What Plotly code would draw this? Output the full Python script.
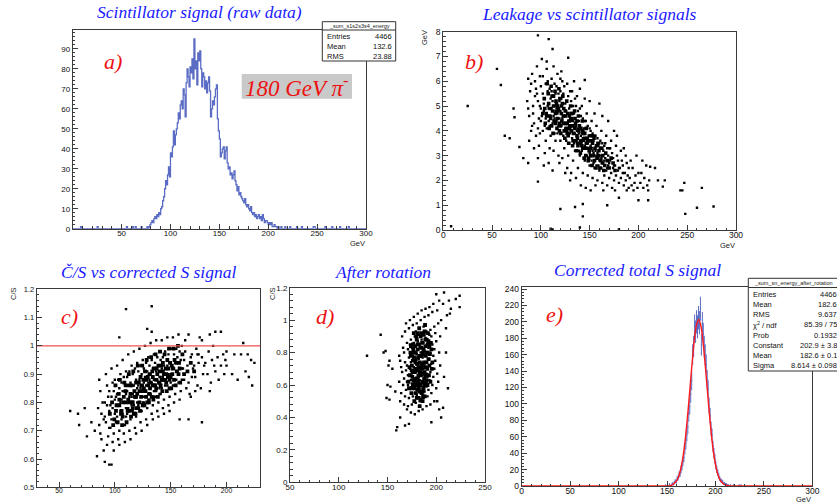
import numpy as np
import plotly.graph_objects as go

W, H = 837, 504

# ---------------- data ----------------
# a) raw scintillator signal, 1 GeV bins starting at 78 GeV
a_first_bin = 78
a_counts = [1, 2, 3, 4, 3, 5, 6, 5, 7, 6, 8, 7, 10, 11, 14, 16, 20, 24, 22, 27,
            31, 26, 38, 36, 41, 49, 42, 47, 50, 53, 58, 55, 62, 64, 60, 70, 67, 56, 73, 80,
            76, 71, 81, 78, 85, 75, 95, 80, 84, 72, 88, 84, 89, 80, 71, 78, 76, 70, 74, 68,
            73, 76, 69, 56, 60, 64, 62, 66, 70, 72, 55, 49, 45, 36, 38, 40, 41, 35, 39, 41,
            33, 30, 31, 27, 28, 25, 27, 29, 24, 22, 19, 21, 17, 18, 16, 15, 14, 13, 15, 12,
            11, 12, 10, 9, 11, 8, 7, 8, 6, 7, 5, 6, 7, 5, 6, 4, 7, 5, 3, 4,
            4, 3, 2, 3, 2, 3, 1, 1, 2, 1, 1, 0, 1, 0]
a_isolated = [8, 25, 55, 61, 64, 70, 76, 213, 217, 222, 229, 234, 246, 247, 258, 265, 273, 282]
a_stats = [("Entries", "4466"), ("Mean", "132.6"), ("RMS", "23.88")]

# b) leakage vs scintillator signal (GeV, GeV): sparse halo and dense core
b_points = [
    (25, 5.0), (55, 6.5), (59, 5.85), (63, 3.8), (68, 3.7), (72, 4.9), (73, 4.55), (78, 3.35),
    (82, 2.9), (87, 2.7), (97, 1.95), (97, 7.85), (108, 7.7), (112, 7.3), (128, 6.95), (145, 6.05),
    (120, 0.85), (135, 0.93), (143, 0.55), (143, 1.05), (168, 1.0), (180, 1.3), (200, 1.2), (210, 1.2),
    (217, 2.5), (220, 2.0), (225, 1.75), (227, 2.0), (243, 1.6), (245, 1.6), (247, 1.9), (248, 0.65),
    (260, 0.9), (265, 1.7), (277, 0.95), (8, 0.15), (110, 0.05), (112, 0.02), (180, 0.03), (140, 0.1),
    (86, 5.2), (87, 6.1), (88, 4.6), (89, 5.6), (90, 4.0), (88, 3.6), (90, 5.9), (87, 4.9),
    (91, 6.3), (92, 5.0), (93, 4.3), (94, 5.4), (95, 3.8), (92, 4.7), (94, 6.0), (93, 3.3), (95, 5.7), (91, 4.2),
    (96, 6.6), (97, 5.2), (98, 4.5), (99, 3.9), (100, 5.8), (97, 4.1), (99, 6.2), (98, 3.4), (100, 4.9),
    (96, 5.5), (97, 2.9), (99, 5.0), (100, 4.4),
    (101, 6.9), (102, 5.5), (103, 4.8), (104, 4.2), (105, 3.6), (102, 6.2), (103, 5.1), (104, 3.1),
    (101, 4.6), (105, 5.9), (102, 4.0), (104, 5.3), (103, 2.6), (105, 4.5),
    (106, 6.5), (107, 5.0), (108, 4.4), (109, 5.7), (110, 3.8), (107, 6.0), (108, 4.9), (109, 3.3),
    (110, 5.3), (106, 4.1), (108, 2.7), (110, 4.6), (107, 5.6), (109, 4.2), (106, 6.8),
    (111, 6.1), (112, 5.2), (113, 4.6), (114, 3.9), (115, 5.5), (112, 4.3), (113, 3.2), (114, 5.9),
    (115, 4.8), (111, 4.9), (112, 2.4), (114, 4.5), (115, 3.6), (113, 6.6), (111, 5.6), (114, 5.0),
    (116, 5.8), (117, 4.7), (118, 4.2), (119, 5.2), (120, 3.6), (117, 6.3), (118, 3.0), (119, 4.5),
    (120, 5.6), (116, 4.9), (117, 3.9), (119, 2.7), (120, 4.8), (118, 5.5), (116, 4.4), (120, 6.1),
    (121, 5.3), (122, 4.5), (123, 3.8), (124, 5.8), (125, 4.1), (122, 6.0), (123, 4.9), (124, 3.3),
    (125, 5.1), (121, 4.2), (122, 2.9), (124, 4.6), (125, 3.7), (121, 6.4), (123, 5.5), (125, 2.3),
    (126, 4.8), (127, 4.0), (128, 5.4), (129, 3.5), (130, 4.5), (127, 5.9), (128, 3.0), (129, 4.9),
    (130, 3.9), (126, 5.2), (127, 2.5), (129, 4.2), (130, 5.6), (128, 4.4), (126, 3.6), (130, 2.0),
    (131, 4.4), (132, 3.7), (133, 5.0), (134, 4.1), (135, 3.2), (132, 5.6), (133, 2.8), (134, 4.7),
    (135, 3.9), (131, 5.2), (132, 4.0), (134, 3.5), (135, 5.3), (133, 4.4), (131, 2.3), (134, 6.0),
    (136, 4.2), (137, 3.5), (138, 4.8), (139, 3.9), (140, 3.0), (137, 5.4), (138, 2.5), (139, 4.4),
    (140, 3.6), (136, 5.0), (137, 4.0), (139, 3.2), (140, 4.9), (138, 4.1), (136, 2.1), (140, 5.7),
    (141, 3.8), (142, 3.2), (143, 4.5), (144, 3.6), (145, 2.8), (142, 5.0), (143, 2.3), (144, 4.1),
    (145, 3.4), (141, 4.6), (142, 3.9), (144, 2.9), (145, 4.4), (143, 3.7), (141, 1.8), (145, 5.3),
    (146, 3.5), (147, 3.0), (148, 4.2), (149, 3.3), (150, 2.6), (147, 4.7), (148, 2.2), (149, 3.8),
    (150, 3.1), (146, 4.4), (147, 3.6), (149, 2.8), (150, 4.1), (148, 3.5), (146, 1.7), (150, 5.2),
    (151, 3.4), (152, 2.8), (153, 3.9), (154, 3.1), (155, 2.5), (152, 4.4), (153, 2.1), (154, 3.6),
    (155, 3.0), (151, 4.0), (152, 3.3), (154, 2.7), (155, 3.8), (153, 3.2), (151, 1.6), (155, 4.7),
    (156, 3.2), (157, 2.6), (158, 3.7), (159, 2.9), (160, 2.4), (157, 4.2), (158, 2.0), (159, 3.4),
    (160, 2.8), (156, 3.8), (157, 3.0), (159, 2.6), (160, 3.5), (158, 3.1), (160, 5.1), (156, 1.8),
    (161, 3.0), (162, 2.5), (163, 3.5), (164, 2.7), (165, 2.2), (162, 4.0), (163, 1.9), (164, 3.2),
    (165, 2.8), (161, 3.6), (162, 2.9), (165, 3.4), (163, 4.6), (164, 1.6),
    (166, 2.9), (167, 2.4), (168, 3.3), (169, 2.6), (170, 2.1), (167, 3.8), (168, 1.8), (169, 3.0),
    (170, 2.7), (166, 3.5), (168, 2.5), (170, 3.3), (169, 4.4),
    (171, 2.8), (172, 2.3), (173, 3.1), (174, 2.5), (175, 2.0), (172, 3.6), (173, 1.7), (174, 2.9),
    (175, 2.6), (171, 3.3), (175, 4.0),
    (176, 2.6), (177, 2.2), (178, 3.0), (179, 2.4), (180, 1.9), (177, 3.4), (179, 2.8), (180, 2.5),
    (176, 1.6), (178, 3.8),
    (181, 2.5), (182, 2.1), (183, 2.8), (184, 2.3), (185, 1.8), (182, 3.2), (184, 2.6), (185, 3.3),
    (186, 2.3), (187, 2.0), (188, 2.7), (189, 2.2), (190, 1.7), (187, 3.0), (190, 2.5), (188, 1.6),
    (191, 2.1), (193, 1.8), (194, 2.5), (196, 1.9), (197, 2.2), (198, 3.0), (199, 1.7), (200, 2.3),
    (195, 1.6), (192, 2.8), (202, 1.9), (203, 2.3), (205, 1.7), (206, 2.1), (208, 2.6), (209, 1.8),
    (210, 1.6), (211, 2.0), (212, 2.55), (204, 2.8),
]
b_core = [
    (110, 4.5), (112, 4.8), (115, 4.3), (117, 4.5), (118, 4.9), (120, 4.2), (121, 4.7), (123, 4.3),
    (125, 4.6), (127, 4.3), (129, 4.6), (131, 4.0), (133, 4.2), (135, 4.5), (137, 3.8), (139, 4.0),
    (141, 3.5), (143, 4.0), (145, 3.7), (147, 3.3), (149, 3.6), (151, 3.0), (153, 3.5), (113, 5.0),
    (116, 5.1), (119, 4.0), (122, 5.1), (126, 4.1), (128, 3.8), (132, 4.7), (136, 3.6), (138, 3.4),
    (142, 3.4), (146, 3.0), (104, 4.9), (106, 4.6), (108, 5.1), (102, 4.7), (124, 4.0), (130, 4.2),
    (103.5, 5.3), (105.5, 4.7), (107.5, 5.5), (109.5, 4.9), (111.5, 5.4), (113.5, 4.4), (115.5, 5.2),
    (117.5, 4.8), (119.5, 5.3), (121.5, 4.4), (123.5, 4.9), (125.5, 4.3), (127.5, 4.7), (129.5, 4.1),
    (131.5, 4.5), (133.5, 3.9), (135.5, 4.3), (137.5, 3.7), (139.5, 4.2), (141.5, 3.6), (143.5, 3.9),
    (145.5, 3.3), (147.5, 3.7), (149.5, 3.2), (151.5, 3.6), (153.5, 3.0), (155.5, 3.3), (157.5, 2.9),
    (159.5, 3.2), (161.5, 2.8), (163.5, 3.0), (165.5, 2.6),
    (104.5, 4.3), (106.5, 5.9), (108.5, 4.1), (110.5, 5.8), (112.5, 3.9), (114.5, 5.6), (116.5, 4.1),
    (118.5, 5.7), (120.5, 3.9), (122.5, 5.4), (124.5, 3.7), (126.5, 5.2), (128.5, 3.5), (130.5, 5.0),
    (132.5, 3.4), (134.5, 4.8), (136.5, 3.2), (138.5, 4.6), (140.5, 3.1), (142.5, 4.4), (144.5, 2.9),
    (146.5, 4.1), (148.5, 2.8), (150.5, 3.8), (152.5, 2.6), (154.5, 3.7), (156.5, 2.5), (158.5, 3.5),
    (160.5, 2.5), (162.5, 3.3), (164.5, 2.4), (166.5, 3.1),
    (109, 4.6), (111, 4.2), (113, 5.4), (115, 4.7), (117, 5.0), (119, 4.3), (121, 5.0), (123, 4.6),
    (125, 4.8), (127, 3.9), (129, 4.4), (131, 4.7), (133, 3.6), (135, 4.1), (137, 4.4), (139, 3.5),
    (141, 4.1), (143, 3.3), (145, 3.9), (147, 3.5), (149, 2.9), (151, 3.3), (153, 3.8), (155, 2.8),
    (157, 3.4), (159, 3.0), (161, 3.3), (163, 2.7), (168, 2.8), (170, 2.5), (172, 2.9), (174, 2.7),
    (176, 2.4),
]

# c) C/S vs corrected S signal
c_points = [
    (60, 0.77), (67, 0.76), (68, 0.72), (73, 0.78), (75, 0.68), (79, 0.73), (82, 0.7), (84, 0.61),
    (91, 0.59), (95, 0.58), (97, 0.58), (110, 1.13), (133, 1.14), (104, 1.03), (166, 0.74), (158, 0.74),
    (178, 0.73), (215, 1.01), (222, 0.95), (220, 0.89), (223, 0.86), (225, 0.94), (217, 0.91), (210, 0.88),
    (205, 0.9), (213, 0.97), (219, 0.97), (207, 0.97), (200, 0.98), (195, 1.05), (190, 1.05), (185, 1.04),
    (129, 1.06), (133, 1.05), (175, 0.97), (200, 0.93),
    (85, 0.78), (86, 0.72), (87, 0.84), (88, 0.67), (89, 0.8), (90, 0.74), (86, 0.88), (88, 0.76), (90, 0.63), (87, 0.69),
    (91, 0.8), (92, 0.73), (93, 0.86), (94, 0.68), (95, 0.77), (92, 0.9), (93, 0.65), (94, 0.82), (95, 0.71),
    (91, 0.75), (93, 0.79), (95, 0.84),
    (96, 0.79), (97, 0.74), (98, 0.87), (99, 0.69), (100, 0.81), (97, 0.92), (98, 0.66), (99, 0.84), (100, 0.76),
    (96, 0.71), (98, 0.78), (100, 0.88), (97, 0.82), (99, 0.63),
    (101, 0.82), (102, 0.75), (103, 0.88), (104, 0.7), (105, 0.8), (102, 0.93), (103, 0.67), (104, 0.85),
    (105, 0.77), (101, 0.73), (103, 0.79), (105, 0.9), (102, 0.83), (104, 0.65), (101, 0.86),
    (106, 0.81), (107, 0.76), (108, 0.89), (109, 0.72), (110, 0.83), (107, 0.95), (108, 0.69), (109, 0.86),
    (110, 0.78), (106, 0.74), (108, 0.8), (110, 0.91), (107, 0.84), (109, 0.66), (106, 0.87), (110, 0.75),
    (111, 0.84), (112, 0.78), (113, 0.91), (114, 0.74), (115, 0.82), (112, 0.97), (113, 0.7), (114, 0.87),
    (115, 0.79), (111, 0.76), (113, 0.82), (115, 0.93), (112, 0.86), (114, 0.67), (111, 0.89), (115, 0.77),
    (116, 0.83), (117, 0.79), (118, 0.92), (119, 0.75), (120, 0.85), (117, 0.98), (118, 0.71), (119, 0.88),
    (120, 0.8), (116, 0.77), (118, 0.84), (120, 0.94), (117, 0.86), (119, 0.69), (116, 0.9), (120, 0.78),
    (121, 0.86), (122, 0.8), (123, 0.93), (124, 0.77), (125, 0.86), (122, 0.99), (123, 0.73), (124, 0.9),
    (125, 0.82), (121, 0.79), (123, 0.85), (125, 0.95), (122, 0.88), (124, 0.7), (121, 0.91), (125, 0.8),
    (126, 0.87), (127, 0.82), (128, 0.94), (129, 0.78), (130, 0.87), (127, 1.0), (128, 0.74), (129, 0.91),
    (130, 0.83), (126, 0.8), (128, 0.86), (130, 0.96), (127, 0.89), (129, 0.72), (126, 0.92), (130, 0.81),
    (131, 0.88), (132, 0.83), (133, 0.95), (134, 0.79), (135, 0.88), (132, 1.01), (133, 0.76), (134, 0.92),
    (135, 0.84), (131, 0.81), (133, 0.87), (135, 0.97), (132, 0.9), (134, 0.74), (131, 0.93), (135, 0.82),
    (136, 0.88), (137, 0.84), (138, 0.96), (139, 0.8), (140, 0.89), (137, 1.02), (138, 0.77), (139, 0.93),
    (140, 0.85), (136, 0.82), (138, 0.88), (140, 0.98), (137, 0.91), (139, 0.75), (136, 0.94), (140, 0.83),
    (141, 0.89), (142, 0.85), (143, 0.96), (144, 0.81), (145, 0.9), (142, 1.02), (143, 0.78), (144, 0.93),
    (145, 0.86), (141, 0.83), (143, 0.89), (145, 0.98), (142, 0.92), (144, 0.76), (141, 0.95),
    (146, 0.9), (147, 0.86), (148, 0.97), (149, 0.82), (150, 0.9), (147, 1.03), (148, 0.79), (149, 0.94),
    (150, 0.87), (146, 0.84), (148, 0.9), (150, 0.99), (147, 0.93), (149, 0.77),
    (151, 0.9), (152, 0.86), (153, 0.97), (154, 0.83), (155, 0.91), (152, 1.03), (153, 0.8), (154, 0.94),
    (155, 0.88), (151, 0.85), (153, 0.92), (155, 0.99),
    (156, 0.91), (157, 0.87), (158, 0.98), (159, 0.84), (160, 0.92), (157, 1.04), (158, 0.81), (159, 0.95),
    (160, 0.88), (156, 0.96), (160, 1.0),
    (161, 0.92), (162, 0.88), (163, 0.98), (164, 0.85), (165, 0.93), (166, 1.04), (167, 0.83), (168, 0.96),
    (169, 0.89), (170, 0.92), (163, 1.02), (166, 0.87), (169, 0.97), (162, 0.95), (168, 0.82),
    (171, 0.93), (172, 0.89), (173, 0.99), (174, 0.86), (175, 0.94), (176, 1.03), (177, 0.85), (178, 0.96),
    (179, 0.9), (180, 0.93), (174, 0.97), (178, 1.02), (172, 0.84),
    (181, 0.94), (183, 0.9), (184, 0.98), (186, 0.87), (187, 0.95), (188, 1.0), (190, 0.91), (192, 0.96),
    (193, 0.88), (195, 0.93), (197, 0.97), (198, 0.9), (199, 0.95), (185, 0.84), (189, 0.93),
]
c_core = [
    (112, 0.81), (114, 0.83), (116, 0.8), (118, 0.82), (120, 0.83), (122, 0.84), (124, 0.86), (126, 0.85),
    (128, 0.88), (130, 0.86), (132, 0.87), (134, 0.89), (136, 0.86), (138, 0.9), (140, 0.87), (142, 0.88),
    (144, 0.9), (146, 0.87), (148, 0.92), (150, 0.89), (104, 0.79), (106, 0.77), (108, 0.82), (110, 0.8),
    (113, 0.77), (117, 0.76), (121, 0.78), (125, 0.79), (129, 0.8), (133, 0.82), (137, 0.85), (141, 0.86),
    (145, 0.88), (149, 0.85), (153, 0.88), (157, 0.9), (115, 0.86), (119, 0.87), (123, 0.89), (127, 0.91),
    (131, 0.9), (135, 0.92), (139, 0.93), (143, 0.91), (147, 0.95), (151, 0.93),
    (95.5, 0.76), (97.5, 0.8), (99.5, 0.74), (101.5, 0.79), (103.5, 0.83), (105.5, 0.76), (107.5, 0.8),
    (109.5, 0.84), (111.5, 0.77), (113.5, 0.86), (115.5, 0.8), (117.5, 0.84), (119.5, 0.78), (121.5, 0.87),
    (123.5, 0.82), (125.5, 0.88), (127.5, 0.84), (129.5, 0.89), (131.5, 0.85), (133.5, 0.91), (135.5, 0.86),
    (137.5, 0.92), (139.5, 0.87), (141.5, 0.93), (143.5, 0.88), (145.5, 0.92), (147.5, 0.89), (149.5, 0.94),
    (151.5, 0.9), (153.5, 0.95), (155.5, 0.91), (157.5, 0.94),
    (98.5, 0.72), (100.5, 0.86), (102.5, 0.73), (104.5, 0.88), (106.5, 0.72), (108.5, 0.87), (110.5, 0.73),
    (112.5, 0.9), (114.5, 0.75), (116.5, 0.91), (118.5, 0.76), (120.5, 0.93), (122.5, 0.77), (124.5, 0.93),
    (126.5, 0.79), (128.5, 0.95), (130.5, 0.8), (132.5, 0.96), (134.5, 0.81), (136.5, 0.97), (138.5, 0.82),
    (140.5, 0.98), (142.5, 0.84), (144.5, 0.97), (146.5, 0.84), (148.5, 0.99), (150.5, 0.85), (152.5, 0.99),
    (154.5, 0.86), (156.5, 1.0), (158.5, 0.87), (160.5, 0.97),
    (101, 0.77), (104, 0.81), (107, 0.75), (110, 0.86), (113, 0.8), (116, 0.78), (119, 0.82), (122, 0.8),
    (125, 0.84), (128, 0.82), (131, 0.83), (134, 0.86), (137, 0.88), (140, 0.91), (143, 0.94), (146, 0.9),
    (149, 0.88), (152, 0.92), (155, 0.94), (158, 0.92), (162, 0.9), (165, 0.91), (168, 0.94), (171, 0.91),
]
c_reference_level = 1.0

# d) after rotation
d_points = [
    (129, 0.78), (143, 0.91), (146, 0.8), (148, 0.81), (151, 0.72), (152, 0.75), (150, 0.6), (153, 0.59),
    (149, 0.52), (152, 0.51), (155, 0.7), (158, 0.56), (160, 0.34), (159, 0.32), (163, 0.4), (168, 0.35),
    (172, 0.36), (195, 0.37), (205, 0.4), (203, 0.45), (207, 0.46), (200, 1.16), (208, 1.17), (213, 1.12),
    (215, 1.07), (220, 1.13), (224, 1.15), (224, 1.08), (211, 1.03), (214, 1.04), (207, 1.1), (205, 1.0),
    (210, 0.95), (210, 0.8), (208, 0.65), (212, 0.58),
    (162, 0.62), (163, 0.75), (164, 0.55), (165, 0.68), (166, 0.83), (163, 0.5), (165, 0.9), (164, 0.71),
    (166, 0.6), (162, 0.78),
    (167, 0.64), (168, 0.74), (169, 0.57), (170, 0.86), (167, 0.48), (168, 0.93), (169, 0.69), (170, 0.62),
    (167, 0.8), (168, 0.53), (170, 0.72), (169, 0.98), (170, 0.45),
    (171, 0.66), (172, 0.77), (173, 0.58), (174, 0.88), (171, 0.47), (172, 0.95), (173, 0.7), (174, 0.63),
    (171, 0.82), (172, 0.52), (174, 0.74), (173, 1.0), (174, 0.43), (171, 0.6), (173, 0.85),
    (175, 0.67), (176, 0.78), (177, 0.59), (178, 0.9), (175, 0.48), (176, 0.97), (177, 0.71), (178, 0.64),
    (175, 0.83), (176, 0.53), (178, 0.75), (177, 1.02), (178, 0.42), (175, 0.61), (177, 0.86), (176, 0.69),
    (178, 0.55),
    (179, 0.68), (180, 0.79), (181, 0.6), (182, 0.91), (179, 0.49), (180, 0.98), (181, 0.72), (182, 0.65),
    (179, 0.84), (180, 0.54), (182, 0.76), (181, 1.04), (182, 0.44), (179, 0.62), (181, 0.87), (180, 0.7),
    (182, 0.57), (179, 0.93), (181, 0.66),
    (183, 0.69), (184, 0.8), (185, 0.61), (186, 0.92), (183, 0.5), (184, 1.0), (185, 0.73), (186, 0.66),
    (183, 0.85), (184, 0.55), (186, 0.77), (185, 1.06), (186, 0.45), (183, 0.63), (185, 0.88), (184, 0.71),
    (186, 0.58), (183, 0.95), (185, 0.67),
    (187, 0.7), (188, 0.81), (189, 0.62), (190, 0.93), (187, 0.52), (188, 1.02), (189, 0.74), (190, 0.67),
    (187, 0.86), (188, 0.56), (190, 0.78), (189, 1.07), (190, 0.47), (187, 0.64), (189, 0.89), (188, 0.72),
    (190, 0.59), (187, 0.96),
    (191, 0.71), (192, 0.83), (193, 0.63), (194, 0.94), (191, 0.53), (192, 1.03), (193, 0.76), (194, 0.68),
    (191, 0.88), (192, 0.57), (194, 0.8), (193, 1.08), (194, 0.48), (191, 0.65), (193, 0.91),
    (195, 0.73), (196, 0.85), (197, 0.65), (198, 0.96), (195, 0.55), (196, 1.05), (197, 0.78), (198, 0.7),
    (195, 0.9), (196, 0.6), (198, 0.82), (197, 1.1), (198, 0.5),
    (199, 0.75), (200, 0.87), (201, 0.67), (202, 0.98), (200, 0.58), (201, 1.06), (203, 0.8), (204, 0.72),
    (199, 0.92), (202, 0.62), (204, 0.9), (203, 1.12), (201, 0.5),
]
d_core = [
    (176, 0.75), (178, 0.68), (180, 0.64), (182, 0.71), (184, 0.66), (186, 0.72), (188, 0.68), (190, 0.74),
    (177, 0.8), (179, 0.76), (181, 0.82), (183, 0.78), (185, 0.83), (187, 0.79), (189, 0.84), (191, 0.8),
    (176, 0.6), (178, 0.58), (180, 0.6), (182, 0.62), (184, 0.6), (186, 0.62), (188, 0.64), (190, 0.63),
    (179, 0.55), (183, 0.56), (187, 0.58), (175, 0.72), (181, 0.69), (185, 0.7), (189, 0.71), (193, 0.72),
    (174, 0.78), (192, 0.87), (184, 0.9), (180, 0.88), (188, 0.93), (176, 0.85), (182, 0.52), (186, 0.5),
    (171.5, 0.62), (172.5, 0.71), (173.5, 0.8), (174.5, 0.55), (175.5, 0.65), (176.5, 0.82), (177.5, 0.5),
    (178.5, 0.7), (179.5, 0.9), (180.5, 0.57), (181.5, 0.77), (182.5, 0.95), (183.5, 0.6), (184.5, 0.73),
    (185.5, 0.86), (186.5, 0.53), (187.5, 0.74), (188.5, 0.97), (189.5, 0.61), (190.5, 0.8), (191.5, 0.92),
    (192.5, 0.66), (193.5, 0.79), (194.5, 0.86), (195.5, 0.7),
    (172, 0.58), (173, 0.66), (174, 0.84), (175, 0.58), (176, 0.68), (177, 0.92), (178, 0.62), (179, 0.8),
    (180, 0.52), (181, 0.64), (182, 0.85), (183, 0.47), (184, 0.68), (185, 0.92), (186, 0.56), (187, 0.82),
    (188, 0.6), (189, 0.78), (190, 0.88), (191, 0.6), (192, 0.76), (193, 0.84), (194, 0.62), (195, 0.82),
    (196, 0.74),
    (174.8, 0.69), (176.8, 0.63), (178.8, 0.74), (180.8, 0.85), (182.8, 0.68), (184.8, 0.78), (186.8, 0.67),
    (188.8, 0.88), (190.8, 0.7), (177.2, 0.77), (179.2, 0.6), (181.2, 0.92), (183.2, 0.74), (185.2, 0.55),
    (187.2, 0.91), (189.2, 0.66), (191.2, 0.85), (183.8, 0.83), (180.2, 0.73), (186.2, 0.8), (182.2, 0.58),
    (178.2, 0.84), (184.2, 0.51), (188.2, 0.53),
]

# e) corrected total S signal, 1 GeV bins
e_bins = [148, 150, 152, 154, 155, 156, 157, 158, 159, 160, 161, 162, 163, 164, 165, 166, 167, 168, 169,
          170, 171, 172, 173, 174, 175, 176, 177, 178, 179, 180, 181, 182, 183, 184, 185, 186, 187, 188,
          189, 190, 191, 192, 193, 194, 195, 196, 197, 198, 199, 200, 201, 202, 203, 204, 205, 206, 207,
          208, 209, 210, 211, 212, 213, 215, 218, 224, 226]
e_counts = [1, 1, 2, 1, 3, 2, 4, 6, 5, 9, 10, 14, 15, 20, 24, 30, 35, 45, 52,
            62, 72, 88, 97, 112, 128, 160, 170, 195, 188, 200, 194, 205, 199, 216, 172, 198, 185, 170,
            160, 148, 130, 118, 98, 86, 70, 62, 48, 40, 33, 25, 20, 16, 12, 9, 7, 6, 5,
            3, 3, 2, 2, 1, 1, 1, 1, 1, 1]
e_fit_x = [0, 100, 140, 150, 155, 160, 163, 166, 169, 172, 175, 178, 180, 182.6, 185, 187, 190, 193,
           196, 199, 202, 205, 210, 215, 225, 300]
e_fit_y = [0, 0, 0, 0.16, 1.2, 6.5, 15.2, 31.7, 58.4, 95.2, 137.5, 175.9, 193.9, 202.9, 195.2, 178.1,
           140.3, 97.9, 60.5, 33.1, 16.1, 6.9, 1.3, 0.2, 0, 0]
e_stats = [("Entries", "4466"), ("Mean", "182.6"), ("RMS", "9.637"), ("χ<sup>2</sup> / ndf", "85.39 / 75"),
           ("Prob", "0.1932"), ("Constant", "202.9 ± 3.8"), ("Mean", "182.6 ± 0.1"), ("Sigma", "8.614 ± 0.098")]

titles = ["Scintillator signal (raw data)", "Leakage vs scintillator signals", "Č/S vs corrected S signal",
          "After rotation", "Corrected total S signal"]
panel_tags = ["a)", "b)", "c)", "d)", "e)"]

# ---------------- helpers ----------------
def fx(p):
    return p / W

def fy(p):
    return 1 - p / H

SANS = "Liberation Sans, Arial, sans-serif"
SERIF = "Liberation Serif, Times New Roman, serif"
HBLUE = "#5b6cc4"

fig = go.Figure()

# a) histogram as step line
a_full = np.zeros(300)
a_full[a_first_bin:a_first_bin + len(a_counts)] = a_counts
for b in a_isolated:
    a_full[b] += 1
a_x = np.append(np.arange(300), 300)
a_y = np.append(a_full, a_full[-1])
fig.add_trace(go.Scatter(x=a_x, y=a_y, mode="lines", line=dict(color=HBLUE, width=1.3, shape="hv"),
                         xaxis="x", yaxis="y", showlegend=False))

def scatter(points, xa, ya, size):
    xs = [p[0] for p in points]
    ys = [p[1] for p in points]
    return go.Scatter(x=xs, y=ys, mode="markers", xaxis=xa, yaxis=ya, showlegend=False,
                      marker=dict(symbol="square", size=size, color="black", line=dict(width=0)))

fig.add_trace(scatter(b_core, "x2", "y2", 3.6))
fig.add_trace(scatter(b_points, "x2", "y2", 2.4))
fig.add_trace(scatter(c_core, "x3", "y3", 3.8))
fig.add_trace(scatter(c_points, "x3", "y3", 2.4))
fig.add_trace(go.Scatter(x=[30, 230], y=[c_reference_level] * 2, mode="lines", xaxis="x3", yaxis="y3",
                         line=dict(color="#f05050", width=1.2), showlegend=False))
fig.add_trace(scatter(d_core, "x4", "y4", 3.8))
fig.add_trace(scatter(d_points, "x4", "y4", 2.4))

e_err = np.sqrt(np.array(e_counts, dtype=float))
fig.add_trace(go.Scatter(x=np.array(e_bins) + 0.5, y=e_counts, mode="markers", xaxis="x5", yaxis="y5",
                         marker=dict(size=1, color=HBLUE), showlegend=False,
                         error_y=dict(type="data", array=e_err, color=HBLUE, thickness=1, width=0),
                         error_x=dict(type="constant", value=0.5, color=HBLUE, thickness=1, width=0)))
fig.add_trace(go.Scatter(x=e_fit_x, y=e_fit_y, mode="lines", xaxis="x5", yaxis="y5", showlegend=False,
                         line=dict(color="#ff1a1a", width=1.4, shape="spline", smoothing=0.6)))

def axis(domain, rng, tickvals, ticktext, minor, size, anchor, standoff=0):
    return dict(domain=domain, range=rng, anchor=anchor, showline=True, linecolor="#3a3a3a", linewidth=1,
                mirror=True, ticks="inside", ticklen=5, tickwidth=1, tickcolor="#3a3a3a",
                showgrid=False, zeroline=False, tickmode="array", tickvals=tickvals, ticktext=ticktext,
                tickfont=dict(family=SANS, size=size, color="#111"), ticklabelstandoff=standoff,
                automargin=False, fixedrange=True,
                minor=dict(ticks="inside", ticklen=2.5, tick0=0, dtick=minor, tickcolor="#3a3a3a",
                           showgrid=False))

def hdom(l, r):
    return [fx(l), fx(r)]

def vdom(t, b):
    return [fy(b), fy(t)]

def lab(vals, fmt="{:g}"):
    return [fmt.format(v) for v in vals]

ax_a_x = [50, 100, 150, 200, 250, 300]
ax_a_y = list(range(0, 100, 10))
ax_b_x = [0, 50, 100, 150, 200, 250, 300]
ax_b_y = list(range(0, 9))
ax_c_x = [50, 100, 150, 200]
ax_c_y = [0.5, 0.6, 0.7, 0.8, 0.9, 1.0, 1.1, 1.2]
ax_d_x = [50, 100, 150, 200, 250]
ax_d_y = [0, 0.2, 0.4, 0.6, 0.8, 1.0, 1.2]
ax_e_x = [0, 50, 100, 150, 200, 250, 300]
ax_e_y = list(range(0, 241, 20))

XS = -3
fig.update_layout(
    width=W, height=H, margin=dict(l=0, r=0, t=0, b=0, autoexpand=False),
    paper_bgcolor="white", plot_bgcolor="white", showlegend=False, hovermode=False,
    xaxis=axis(hdom(72.7, 366), [0, 300], ax_a_x, lab(ax_a_x), 10, 8, "y", XS),
    yaxis=axis(vdom(29.5, 228.7), [0, 99.75], ax_a_y, lab(ax_a_y), 2, 8, "x"),
    xaxis2=axis(hdom(443.3, 736), [0, 300], ax_b_x, lab(ax_b_x), 10, 8.5, "y2", XS),
    yaxis2=axis(vdom(31.7, 230), [0, 8], ax_b_y, lab(ax_b_y), 0.2, 8.5, "x2"),
    xaxis3=axis(hdom(36.7, 260), [30, 230], ax_c_x, lab(ax_c_x), 10, 6.8, "y3", XS),
    yaxis3=axis(vdom(289.3, 487.3), [0.5, 1.2], ax_c_y, lab(ax_c_y), 0.02, 7.5, "x3"),
    xaxis4=axis(hdom(290, 485), [50, 250], ax_d_x, lab(ax_d_x), 10, 8, "y4", XS),
    yaxis4=axis(vdom(287.7, 482.3), [0, 1.2], ax_d_y, lab(ax_d_y), 0.04, 8, "x4"),
    xaxis5=axis(hdom(521.7, 812.3), [0, 300], ax_e_x, lab(ax_e_x), 10, 8.5, "y5", XS),
    yaxis5=axis(vdom(286.7, 486), [0, 242.8], ax_e_y, lab(ax_e_y), 4, 8.5, "x5"),
)

annotations = []
shapes = []

def ann(text, x, y, size, color="black", family=SANS, xa="center", ya="middle", angle=0):
    annotations.append(dict(text=text, x=fx(x), y=fy(y), xref="paper", yref="paper", showarrow=False,
                            xanchor=xa, yanchor=ya, textangle=angle, borderpad=0,
                            font=dict(family=family, size=size, color=color)))

# titles
title_pos = [(199, 12), (589, 14), (148, 272), (383, 272), (637, 270)]
for t, (x, y) in zip(titles, title_pos):
    ann("<i>" + t + "</i>", x, y, 17.5, "#1a1aff", SERIF)

# panel tags
tag_pos = [(113, 61), (474, 61), (69, 316), (325, 316), (554, 314)]
for t, (x, y) in zip(panel_tags, tag_pos):
    ann("<i>" + t + "</i>", x, y, 22, "#ee1111", SERIF)

# axis titles
ann("GeV", 366, 243, 7.5, "#222", SANS, xa="right")
ann("GeV", 736, 245, 7.5, "#222", SANS, xa="right")
ann("GeV", 812, 499, 7.5, "#222", SANS, xa="right")
ann("GeV", 425, 38, 7.5, "#222", SANS, angle=-90)
ann("C/S", 13, 294, 7.5, "#222", SANS, angle=-90)
ann("C/S", 272, 294, 7.5, "#222", SANS, angle=-90)

# beam label
shapes.append(dict(type="rect", xref="paper", yref="paper", x0=fx(241.7), x1=fx(352), y0=fy(98.7), y1=fy(74),
                   fillcolor="#c9c9c9", line=dict(width=0), layer="above"))
ann("<i>180 GeV π<sup>-</sup></i>", 296.5, 86.5, 23, "#ee1111", SERIF)

# stats boxes
def stats_box(x0, x1, y0, y1, yline, header, hx, hy, rows, row_y0, row_dy, lx, rx):
    shapes.append(dict(type="rect", xref="paper", yref="paper", x0=fx(x0), x1=fx(x1), y0=fy(y1), y1=fy(y0),
                       fillcolor="white", line=dict(color="#333", width=1), layer="above"))
    shapes.append(dict(type="line", xref="paper", yref="paper", x0=fx(x0), x1=fx(x1), y0=fy(yline),
                       y1=fy(yline), line=dict(color="#333", width=1), layer="above"))
    ann(header, hx, hy, 5.5, "#222", SANS)
    for i, (k, v) in enumerate(rows):
        y = row_y0 + i * row_dy
        ann(k, lx, y, 7.5, "#111", SANS, xa="left")
        ann(v, rx, y, 7.5, "#111", SANS, xa="right")

stats_box(322.3, 395.7, 21.7, 61, 30, "_sum_s1s2s3s4_energy", 359, 25.8, a_stats, 36.7, 9.7, 325.5, 392.5)
stats_box(748.3, 845, 278.3, 371, 287.5, "_sum_sn_energy_after_rotation", 793, 283, e_stats, 294.3, 10.2,
          752, 838)

fig.update_layout(annotations=annotations, shapes=shapes)
# remove the page's default body margin so the figure sits at the window's top-left corner
fig.write_html("out.html", config={"displayModeBar": False, "staticPlot": True},
               post_script="document.body.style.margin='0';document.body.style.overflow='hidden';")
